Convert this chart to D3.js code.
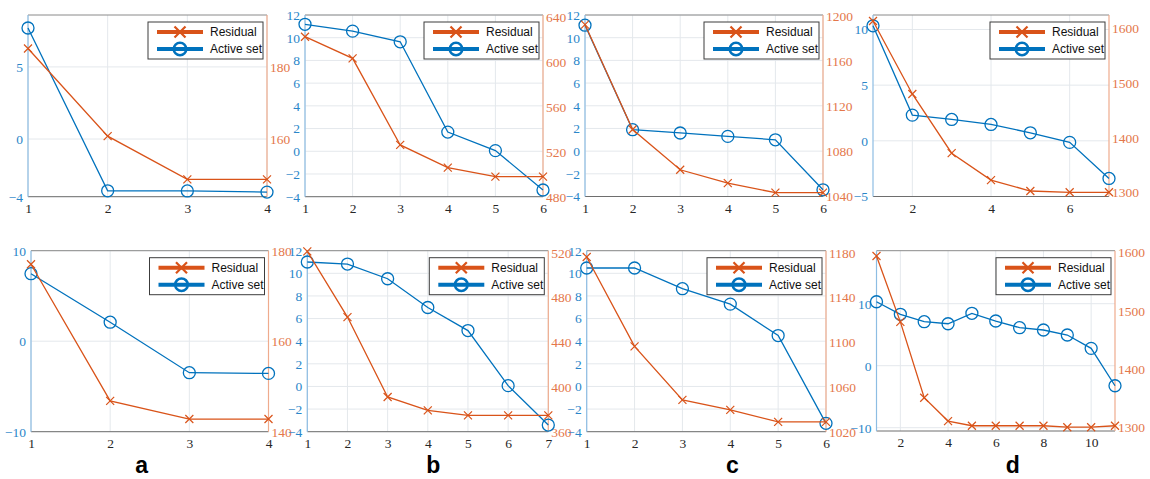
<!DOCTYPE html>
<html>
<head>
<meta charset="utf-8">
<script src="https://cdn.jsdelivr.net/npm/d3@7"></script>
<style>
  html, body { margin: 0; padding: 0; background: #fff; }
  svg { display: block; }
</style>
</head>
<body>
<svg id="fig" width="1150" height="479"></svg>
<script>
// ---- data: iterations, residual (right axis) and active-set size (left axis) ----
const stepsA1 = [1, 2, 3, 4];
const activeA1 = [7.7, -3.59, -3.6, -3.68];
const residualA1 = [185.1, 160.8, 148.8, 148.8];

const stepsB1 = [1, 2, 3, 4, 5, 6];
const activeB1 = [11.18, 10.58, 9.64, 1.69, 0.06, -3.41];
const residualB1 = [622.2, 603, 526, 505.8, 497.8, 497.8];

const stepsC1 = [1, 2, 3, 4, 5, 6];
const activeC1 = [11.1, 1.89, 1.6, 1.3, 1.0, -3.41];
const residualC1 = [1192.5, 1099.4, 1063.7, 1051.8, 1043.4, 1043.4];

const stepsD1 = [1, 2, 3, 4, 5, 6, 7];
const activeD1 = [10.33, 2.31, 1.92, 1.47, 0.72, -0.14, -3.38];
const residualD1 = [1613, 1480, 1372, 1323, 1303, 1300.7, 1300.7];

const stepsA2 = [1, 2, 3, 4];
const activeA2 = [7.46, 2.1, -3.48, -3.56];
const residualA2 = [177, 146.8, 142.8, 142.8];

const stepsB2 = [1, 2, 3, 4, 5, 6, 7];
const activeB2 = [11.0, 10.82, 9.52, 6.98, 4.94, 0.07, -3.41];
const residualB2 = [521.4, 462.6, 391.1, 379.1, 374.6, 374.6, 374.6];

const stepsC2 = [1, 2, 3, 4, 5, 6];
const activeC2 = [10.47, 10.47, 8.64, 7.28, 4.5, -3.26];
const residualC2 = [1176.4, 1096.4, 1048.5, 1039.5, 1028.8, 1028.8];

const stepsD2 = [1, 2, 3, 4, 5, 6, 7, 8, 9, 10, 11];
const activeD2 = [10.32, 8.29, 7.1, 6.77, 8.45, 7.21, 6.13, 5.76, 4.95, 2.8, -3.23];
const residualD2 = [1594, 1481, 1351, 1311, 1303, 1303, 1303, 1303, 1300.5, 1300.5, 1303];

// ---- tick labels ----
const xTicks4 = [1, 2, 3, 4];
const xTicks6 = [1, 2, 3, 4, 5, 6];
const xTicks7 = [1, 2, 3, 4, 5, 6, 7];
const xTicksEven7 = [2, 4, 6];
const xTicksEven11 = [2, 4, 6, 8, 10];

const leftTicksA1 = [-4, 0, 5];
const rightTicksA1 = [160, 180];
const leftTicksStd = [-4, -2, 0, 2, 4, 6, 8, 10, 12];
const rightTicksB1 = [480, 520, 560, 600, 640];
const rightTicksC1 = [1040, 1080, 1120, 1160, 1200];
const leftTicksD1 = [-5, 0, 5, 10];
const rightTicksD = [1300, 1400, 1500, 1600];
const leftTicksA2 = [-10, 0, 10];
const rightTicksA2 = [140, 160, 180];
const rightTicksB2 = [360, 400, 440, 480, 520];
const rightTicksC2 = [1020, 1060, 1100, 1140, 1180];
const leftTicksD2 = [-10, 0, 10];

const seriesNames = ["Residual", "Active set"];
const panelLetters = ["a", "b", "c", "d"];

// ---- panel layout and axis ranges ----
const panels = [
  { box: [28, 267, 15, 196.7], xDom: [1, 4], lDom: [-4, 8.6], rDom: [144, 194.4],
    x: stepsA1, act: activeA1, res: residualA1, xt: xTicks4, lt: leftTicksA1, rt: rightTicksA1 },
  { box: [305, 543, 15, 196.7], xDom: [1, 6], lDom: [-4, 12], rDom: [480, 641.5],
    x: stepsB1, act: activeB1, res: residualB1, xt: xTicks6, lt: leftTicksStd, rt: rightTicksB1 },
  { box: [585, 823, 15, 196.5], xDom: [1, 6], lDom: [-4, 12], rDom: [1040, 1201],
    x: stepsC1, act: activeC1, res: residualC1, xt: xTicks6, lt: leftTicksStd, rt: rightTicksC1 },
  { box: [873, 1109, 15, 196.5], xDom: [1, 7], lDom: [-5, 11.3], rDom: [1293, 1624],
    x: stepsD1, act: activeD1, res: residualD1, xt: xTicksEven7, lt: leftTicksD1, rt: rightTicksD },
  { box: [31, 268.5, 250.7, 431.7], xDom: [1, 4], lDom: [-10, 10], rDom: [140, 180],
    x: stepsA2, act: activeA2, res: residualA2, xt: xTicks4, lt: leftTicksA2, rt: rightTicksA2 },
  { box: [307.3, 548.3, 250.7, 431.7], xDom: [1, 7], lDom: [-4, 12], rDom: [360, 522],
    x: stepsB2, act: activeB2, res: residualB2, xt: xTicks7, lt: leftTicksStd, rt: rightTicksB2 },
  { box: [586.7, 826, 250.7, 431.7], xDom: [1, 6], lDom: [-4, 12], rDom: [1020, 1182],
    x: stepsC2, act: activeC2, res: residualC2, xt: xTicks6, lt: leftTicksStd, rt: rightTicksC2 },
  { box: [876.5, 1115, 250.7, 431], xDom: [1, 11], lDom: [-10.53, 18.55], rDom: [1294, 1603],
    x: stepsD2, act: activeD2, res: residualD2, xt: xTicksEven11, lt: leftTicksD2, rt: rightTicksD }
];
const letterX = [141.7, 433.3, 732.3, 1012.7];

const BLUE = "#0072BD", ORANGE = "#D95319";
const BLUE_TXT = "#2a86c9", ORANGE_TXT = "#e4774a";
const BLUE_AX = "#8dbde3", ORANGE_AX = "#efab8d";
const TICK_FONT = "'Liberation Serif', 'DejaVu Serif', serif";
const SANS = "'Liberation Sans', Arial, sans-serif";

const svg = d3.select("#fig");

function xMark(g, cx, cy, h, color, w) {
  g.append("path")
    .attr("d", `M${cx - h},${cy - h}L${cx + h},${cy + h}M${cx - h},${cy + h}L${cx + h},${cy - h}`)
    .attr("stroke", color).attr("stroke-width", w).attr("fill", "none");
}

function styleAxis(g, color) {
  g.select(".domain").remove();
  g.selectAll(".tick line").remove();
  g.attr("font-family", null).attr("font-size", null);
  g.selectAll("text").attr("fill", color)
    .style("font-family", TICK_FONT).style("font-size", "13.5px");
}

panels.forEach(p => {
  const [x0, x1, y0, y1] = p.box;
  const g = svg.append("g");
  const xs = d3.scaleLinear().domain(p.xDom).range([x0, x1]);
  const yl = d3.scaleLinear().domain(p.lDom).range([y1, y0]);
  const yr = d3.scaleLinear().domain(p.rDom).range([y1, y0]);

  // grid
  const grid = g.append("g").attr("stroke", "#e4e8ec").attr("stroke-width", 1);
  p.xt.forEach(t => grid.append("line")
    .attr("x1", xs(t)).attr("x2", xs(t)).attr("y1", y0).attr("y2", y1));
  p.lt.forEach(t => grid.append("line")
    .attr("x1", x0).attr("x2", x1).attr("y1", yl(t)).attr("y2", yl(t)));

  // frame: dark top/bottom, coloured y axes
  g.append("line").attr("x1", x0).attr("x2", x1).attr("y1", y0).attr("y2", y0)
    .attr("stroke", "#8a8a8a").attr("stroke-width", 1);
  g.append("line").attr("x1", x0).attr("x2", x1).attr("y1", y1).attr("y2", y1)
    .attr("stroke", "#6e6e6e").attr("stroke-width", 1);
  g.append("line").attr("x1", x0).attr("x2", x0).attr("y1", y0).attr("y2", y1)
    .attr("stroke", BLUE_AX).attr("stroke-width", 1.2);
  g.append("line").attr("x1", x1).attr("x2", x1).attr("y1", y0).attr("y2", y1)
    .attr("stroke", ORANGE_AX).attr("stroke-width", 1.2);

  // axes
  const ax = g.append("g").attr("transform", `translate(0,${y1})`)
    .call(d3.axisBottom(xs).tickValues(p.xt).tickSize(0).tickPadding(5).tickFormat(d3.format("d")));
  styleAxis(ax, "#262626");
  ax.selectAll("text").attr("dy", "0.85em");

  const al = g.append("g").attr("transform", `translate(${x0},0)`)
    .call(d3.axisLeft(yl).tickValues(p.lt).tickSize(0).tickPadding(5).tickFormat(d3.format("d")));
  styleAxis(al, BLUE_TXT);

  const ar = g.append("g").attr("transform", `translate(${x1},0)`)
    .call(d3.axisRight(yr).tickValues(p.rt).tickSize(0).tickPadding(3).tickFormat(d3.format("d")));
  styleAxis(ar, ORANGE_TXT);

  // series
  const lineAct = d3.line().x((d, i) => xs(p.x[i])).y(d => yl(d));
  const lineRes = d3.line().x((d, i) => xs(p.x[i])).y(d => yr(d));

  g.append("path").datum(p.act).attr("d", lineAct)
    .attr("fill", "none").attr("stroke", BLUE).attr("stroke-width", 1.3);
  p.act.forEach((v, i) => g.append("circle")
    .attr("cx", xs(p.x[i])).attr("cy", yl(v)).attr("r", 6)
    .attr("fill", "none").attr("stroke", BLUE).attr("stroke-width", 1.3));

  g.append("path").datum(p.res).attr("d", lineRes)
    .attr("fill", "none").attr("stroke", ORANGE).attr("stroke-width", 1.3);
  p.res.forEach((v, i) => xMark(g, xs(p.x[i]), yr(v), 4, ORANGE, 1.2));

  // legend
  const lw = 115, lh = 37;
  const lx = x1 - 4 - lw, ly = y0 + 7;
  const lg = g.append("g").attr("transform", `translate(${lx},${ly})`);
  lg.append("rect").attr("x", 0).attr("y", 0).attr("width", lw).attr("height", lh)
    .attr("fill", "#fff").attr("stroke", "#3c3c3c").attr("stroke-width", 1);
  const rows = [10, 27];
  // Residual entry
  lg.append("line").attr("x1", 9).attr("x2", 55).attr("y1", rows[0]).attr("y2", rows[0])
    .attr("stroke", ORANGE).attr("stroke-width", 4);
  xMark(lg, 32, rows[0], 5.5, ORANGE, 2.2);
  // Active set entry
  lg.append("line").attr("x1", 9).attr("x2", 55).attr("y1", rows[1]).attr("y2", rows[1])
    .attr("stroke", BLUE).attr("stroke-width", 4);
  lg.append("circle").attr("cx", 32).attr("cy", rows[1]).attr("r", 6.3)
    .attr("fill", "none").attr("stroke", BLUE).attr("stroke-width", 2.5);
  seriesNames.forEach((name, i) => lg.append("text")
    .attr("x", 62).attr("y", rows[i]).attr("dy", "0.36em")
    .attr("fill", "#111").style("font-family", SANS).style("font-size", "12px")
    .text(name));
});

// panel letters
panelLetters.forEach((t, i) => svg.append("text")
  .attr("x", letterX[i]).attr("y", 473)
  .attr("text-anchor", "middle")
  .style("font-family", SANS).style("font-size", "23px").style("font-weight", "bold")
  .attr("fill", "#000").text(t));
</script>
</body>
</html>
